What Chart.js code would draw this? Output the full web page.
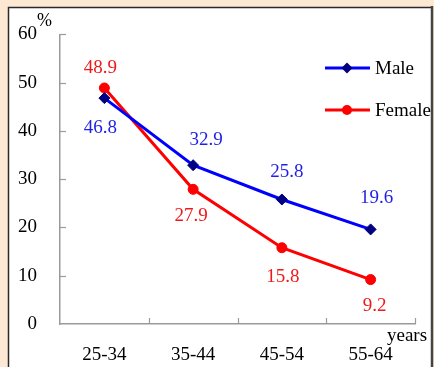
<!DOCTYPE html>
<html>
<head>
<meta charset="utf-8">
<script src="https://cdn.jsdelivr.net/npm/chart.js@4"></script>
<style>
  html, body { margin: 0; padding: 0; background: #FDE9D3; }
  #wrap { width: 434px; height: 367px; position: relative; }
  canvas { display: block; }
</style>
</head>
<body>
<div id="wrap"><canvas id="c" width="434" height="367"></canvas></div>
<script>
// Age groups and shares (%) by sex
const ageGroups = ['25-34', '35-44', '45-54', '55-64'];
const maleValues = [46.8, 32.9, 25.8, 19.6];
const femaleValues = [48.9, 27.9, 15.8, 9.2];
const yTicks = [0, 10, 20, 30, 40, 50, 60];

const SERIF = '"Liberation Serif", "Times New Roman", serif';
const AXIS_GREY = '#9a9a9a';

// Frame: peach margin with a white panel
const framePlugin = {
  id: 'frame',
  beforeDraw(chart) {
    const ctx = chart.ctx;
    ctx.save();
    ctx.fillStyle = '#FDE9D3';
    ctx.fillRect(0, 0, chart.width, chart.height);
    ctx.fillStyle = '#ffffff';
    ctx.fillRect(8, 7, 424, chart.height - 7);
    ctx.strokeStyle = '#2a2a2a';
    ctx.lineWidth = 1.5;
    ctx.beginPath();
    ctx.moveTo(8.5, chart.height);
    ctx.lineTo(8.5, 7.5);
    ctx.lineTo(431, 7.5);
    ctx.stroke();
    ctx.strokeStyle = '#444444';
    ctx.lineWidth = 2.5;
    ctx.beginPath();
    ctx.moveTo(432, 6);
    ctx.lineTo(432, chart.height);
    ctx.stroke();
    ctx.restore();
  }
};

// Inward tick marks, unit captions, value labels and legend
const decorPlugin = {
  id: 'decor',
  afterDatasetsDraw(chart) {
    const ctx = chart.ctx;
    const xs = chart.scales.x, ys = chart.scales.y;
    const area = chart.chartArea;
    ctx.save();
    ctx.strokeStyle = AXIS_GREY;
    ctx.lineWidth = 1.2;
    // y ticks pointing right
    yTicks.forEach(v => {
      if (v === 0) return;
      const y = Math.round(ys.getPixelForValue(v)) + 0.5;
      ctx.beginPath();
      ctx.moveTo(area.left, y);
      ctx.lineTo(area.left + 6, y);
      ctx.stroke();
    });
    // x ticks pointing up, at category boundaries
    const n = ageGroups.length;
    const step = (xs.getPixelForValue(n - 1) - xs.getPixelForValue(0)) / (n - 1);
    for (let i = 0; i < n; i++) {
      const x = Math.round(xs.getPixelForValue(i) + step / 2) + 0.5;
      ctx.beginPath();
      ctx.moveTo(x, area.bottom);
      ctx.lineTo(x, area.bottom - 6);
      ctx.stroke();
    }

    ctx.fillStyle = '#000000';
    ctx.font = '18px ' + SERIF;
    ctx.textAlign = 'left';
    ctx.textBaseline = 'middle';
    ctx.fillText('%', 37, 21);
    ctx.font = '19px ' + SERIF;
    ctx.fillText('years', 387, 336);

    // value labels
    chart.data.datasets.forEach((ds, di) => {
      const meta = chart.getDatasetMeta(di);
      ctx.fillStyle = ds.labelColor;
      ctx.font = '19px ' + SERIF;
      ctx.textAlign = 'center';
      ctx.textBaseline = 'middle';
      meta.data.forEach((pt, i) => {
        const off = ds.labelOffsets[i];
        ctx.fillText(ds.data[i].toFixed(1), pt.x + off[0], pt.y + off[1]);
      });
    });

    // legend inside the plot
    const rows = [{ ds: chart.data.datasets[0], y: 68 }, { ds: chart.data.datasets[1], y: 110 }];
    rows.forEach(r => {
      ctx.strokeStyle = r.ds.borderColor;
      ctx.lineWidth = 3;
      ctx.beginPath();
      ctx.moveTo(325, r.y);
      ctx.lineTo(370, r.y);
      ctx.stroke();
      ctx.fillStyle = r.ds.pointBackgroundColor;
      ctx.beginPath();
      if (r.ds.pointStyle === 'rectRot') {
        const s = 5.5;
        ctx.moveTo(347, r.y - s);
        ctx.lineTo(347 + s, r.y);
        ctx.lineTo(347, r.y + s);
        ctx.lineTo(347 - s, r.y);
        ctx.closePath();
      } else {
        ctx.arc(347, r.y, 5, 0, Math.PI * 2);
      }
      ctx.fill();
      ctx.fillStyle = '#000000';
      ctx.font = '19px ' + SERIF;
      ctx.textAlign = 'left';
      ctx.textBaseline = 'middle';
      ctx.fillText(r.ds.label, 375, r.y + 1);
    });
    ctx.restore();
  }
};

new Chart(document.getElementById('c'), {
  type: 'line',
  data: {
    labels: ageGroups,
    datasets: [
      {
        label: 'Male',
        data: maleValues,
        borderColor: '#0000FF',
        borderWidth: 3,
        pointStyle: 'rectRot',
        pointRadius: 5.5,
        pointBackgroundColor: '#000080',
        pointBorderColor: '#000080',
        pointBorderWidth: 1,
        labelColor: '#1f1fe6',
        labelOffsets: [[-4, 30], [13, -25], [5, -27], [6, -31]],
        tension: 0
      },
      {
        label: 'Female',
        data: femaleValues,
        borderColor: '#FF0000',
        borderWidth: 3,
        pointStyle: 'circle',
        pointRadius: 5,
        pointBackgroundColor: '#FF0000',
        pointBorderColor: '#FF0000',
        pointBorderWidth: 1,
        labelColor: '#f01818',
        labelOffsets: [[-4, -20], [-2, 27], [1, 29], [4, 26]],
        tension: 0
      }
    ]
  },
  options: {
    responsive: false,
    animation: false,
    devicePixelRatio: 1,
    layout: { padding: { left: 0, top: 34, right: 19, bottom: 0 } },
    plugins: { legend: { display: false }, tooltip: { enabled: false } },
    scales: {
      x: {
        type: 'category',
        offset: true,
        grid: { display: false, drawTicks: false, tickLength: 0 },
        border: { display: true, color: AXIS_GREY, width: 1.5 },
        ticks: { color: '#000000', font: { family: SERIF, size: 19 }, padding: 20, maxRotation: 0 },
        afterFit(s) { s.height = 43; }
      },
      y: {
        min: 0,
        max: 60,
        grid: { display: false, drawTicks: false, tickLength: 0 },
        border: { display: true, color: AXIS_GREY, width: 1.5 },
        ticks: {
          stepSize: 10,
          color: '#000000',
          font: { family: SERIF, size: 19 },
          padding: 23,
          callback: (v) => yTicks.includes(v) ? String(v) : ''
        },
        afterFit(s) { s.width = 60; }
      }
    }
  },
  plugins: [framePlugin, decorPlugin]
});
</script>
</body>
</html>
